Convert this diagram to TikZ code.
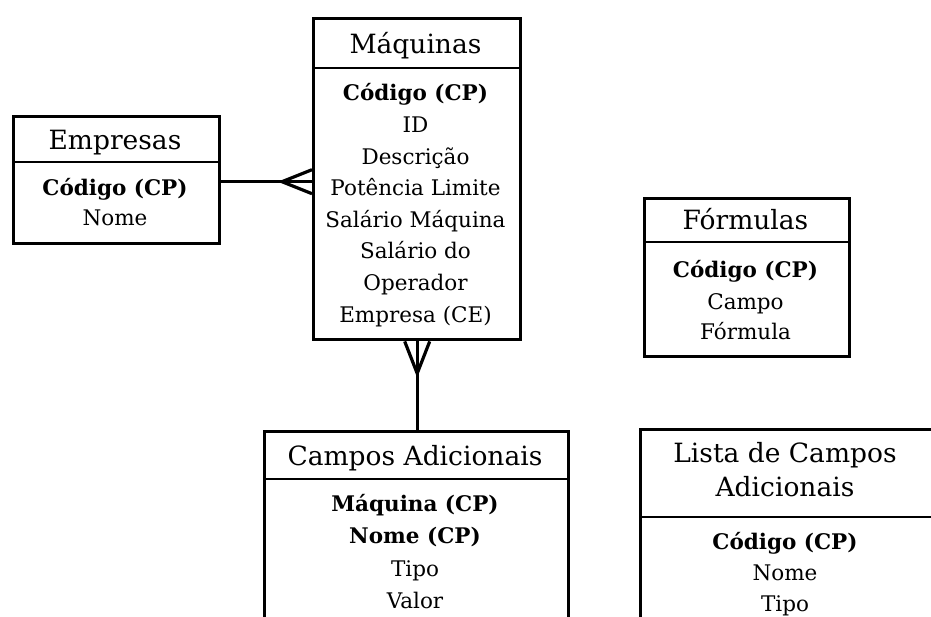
\documentclass[tikz,border=0pt]{standalone}
\usepackage{fontspec}
\setmainfont{DejaVu Serif}
\usetikzlibrary{calc}
\begin{document}
\begin{tikzpicture}[x=1pt,y=-1pt,
  entity/.style={draw, line width=3.4pt, rectangle, inner sep=0pt, anchor=north west},
  divider/.style={line width=1.6pt},
  txt/.style={inner sep=0pt, text height=16pt, text depth=0pt, anchor=center,
              font=\fontsize{21.5}{26}\selectfont},
  key/.style={txt, font=\fontsize{21.5}{26}\selectfont\bfseries},
  head/.style={inner sep=0pt, text height=19pt, text depth=0pt, anchor=center,
              font=\fontsize{26.5}{30}\selectfont},
  link/.style={line width=3.2pt},
  crow/.style={line width=3.2pt, line join=miter}
]
% page frame
\fill[white] (0,0) rectangle (931,617);
\useasboundingbox (0,0) rectangle (931,617);
\clip (0,0) rectangle (931,617);

% ---------- Empresas ----------
\node[entity, minimum width=206pt, minimum height=127pt] (emp) at (12,115) {};
\draw[divider] (emp.west |- 0,162) -- (emp.east |- 0,162);
\node[head] (empT) at (115,140) {Empresas};
\node[key] (empA) at (115,188) {Código (CP)};
\node[txt] (empB) at (115,218) {Nome};

% ---------- Máquinas ----------
\node[entity, minimum width=207pt, minimum height=321pt] (maq) at (312,17) {};
\draw[divider] (maq.west |- 0,68) -- (maq.east |- 0,68);
\node[head] (maqT) at (415.5,44) {Máquinas};
\node[key] (maqA) at (415.5,93) {Código (CP)};
\node[txt] (maqB) at (415.5,124.6) {ID};
\node[txt] (maqC) at (415.5,156.2) {Descrição};
\node[txt] (maqD) at (415.5,187.8) {Potência Limite};
\node[txt] (maqE) at (415.5,219.4) {Salário Máquina};
\node[txt] (maqF) at (415.5,251) {Salário do};
\node[txt] (maqG) at (415.5,282.6) {Operador};
\node[txt] (maqH) at (415.5,314.2) {Empresa (CE)};

% ---------- Fórmulas ----------
\node[entity, minimum width=205pt, minimum height=158pt] (form) at (643,197) {};
\draw[divider] (form.west |- 0,242) -- (form.east |- 0,242);
\node[head] (formT) at (745.5,220) {Fórmulas};
\node[key] (formA) at (745.5,270) {Código (CP)};
\node[txt] (formB) at (745.5,301) {Campo};
\node[txt] (formC) at (745.5,332) {Fórmula};

% ---------- Campos Adicionais (runs past the lower edge) ----------
\node[entity, minimum width=304pt, minimum height=260pt] (camp) at (263,430) {};
\draw[divider] (camp.west |- 0,479) -- (camp.east |- 0,479);
\node[head] (campT) at (415,456) {Campos Adicionais};
\node[key] (campA) at (415,503) {Máquina (CP)};
\node[key] (campB) at (415,535) {Nome (CP)};
\node[txt] (campC) at (415,568) {Tipo};
\node[txt] (campD) at (415,600) {Valor};

% ---------- Lista de Campos Adicionais (runs past the right and lower edges) ----------
\node[entity, minimum width=330pt, minimum height=260pt] (lista) at (639,428) {};
\draw[divider] (lista.west |- 0,517) -- (lista.east |- 0,517);
\node[head] (listaT1) at (785,453) {Lista de Campos};
\node[head] (listaT2) at (785,487) {Adicionais};
\node[key] (listaA) at (785,541) {Código (CP)};
\node[txt] (listaB) at (785,572) {Nome};
\node[txt] (listaC) at (785,603) {Tipo};

% ---------- relationships ----------
% Empresas 1 --- N Máquinas
\coordinate (e1) at ($(emp.east)+(0,1.5)$);
\coordinate (m1) at (e1 -| maq.west);
\draw[link] (e1) -- (m1);
\draw[crow] ($(m1)+(0,-12)$) -- ($(m1)+(-30,0)$) -- ($(m1)+(0,12)$);

% Máquinas 1 --- N Campos Adicionais
\coordinate (m2) at (maq.south);
\coordinate (c2) at (m2 |- camp.north);
\draw[link] (m2) -- (c2);
\draw[crow] ($(m2)+(-12.5,0)$) -- ($(m2)+(0,32)$) -- ($(m2)+(12.5,0)$);
\end{tikzpicture}
\end{document}
